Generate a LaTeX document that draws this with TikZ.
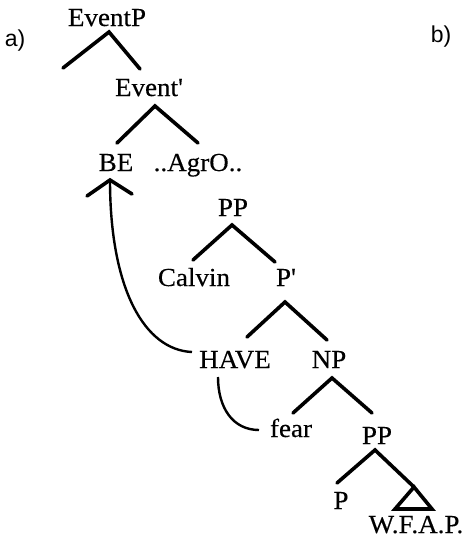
\documentclass[tikz,border=0pt]{standalone}
\usepackage{fontspec}
\setmainfont{Liberation Serif}[Ligatures=TeXOff,FakeStretch=1.04,FakeBold=0.3]
\newfontfamily\labelfont{Liberation Sans}
\begin{document}
\begin{tikzpicture}[x=1pt,y=-1pt,
  lbl/.style={anchor=base,inner sep=0pt,font=\fontsize{26}{26}\selectfont},
  side/.style={anchor=base,inner sep=0pt,font=\labelfont\fontsize{23}{23}\selectfont},
  branch/.style={line width=3.6pt,line cap=round},
  trace/.style={line width=2.4pt}]
\useasboundingbox (0,0) rectangle (470,539);
% labels
\node[side] (la) at (15,46) {a)};
\node[side] (lb) at (441,42) {b)};
% tree nodes
\node[lbl] (EventP) at (107,26) {EventP};
\node[lbl] (EventBar) at (149,96) {Event'};
\node[lbl] (BE) at (116,171) {BE};
\node[lbl] (AgrO) at (198,171) {..AgrO..};
\node[lbl] (PP) at (233,216) {PP};
\node[lbl] (Calvin) at (194,286) {Calvin};
\node[lbl] (Pbar) at (286,286) {P'};
\node[lbl] (HAVE) at (235,368) {HAVE};
\node[lbl] (NP) at (329,368) {NP};
\node[lbl] (fear) at (291,437) {fear};
\node[lbl] (PPb) at (377,444) {PP};
\node[lbl] (P) at (341,509) {P};
\node[lbl] (WFAP) at (416,533) {W.F.A.P.};
% branch points
\coordinate (a1) at (109,32);  \coordinate (a1l) at (63,68);   \coordinate (a1r) at (140,69);
\coordinate (a2) at (155,106); \coordinate (a2l) at (117,143); \coordinate (a2r) at (198,143);
\coordinate (a3) at (232,225); \coordinate (a3l) at (193,260); \coordinate (a3r) at (275,262);
\coordinate (a4) at (285,302); \coordinate (a4l) at (247,337); \coordinate (a4r) at (327,340);
\coordinate (a5) at (332,378); \coordinate (a5l) at (293,413); \coordinate (a5r) at (372,413);
\coordinate (a6) at (375,450); \coordinate (a6l) at (337,483); \coordinate (a6r) at (414,487);
\coordinate (t1) at (395,509); \coordinate (t2) at (432,509);
\draw[branch] (a1l) -- (a1) -- (a1r);
\draw[branch] (a2l) -- (a2) -- (a2r);
\draw[branch] (a3l) -- (a3) -- (a3r);
\draw[branch] (a4l) -- (a4) -- (a4r);
\draw[branch] (a5l) -- (a5) -- (a5r);
\draw[branch] (a6l) -- (a6) -- (a6r);
\draw[branch,line join=miter] (a6r) -- (t1) -- (t2) -- cycle;
% movement traces
\coordinate (hvL) at (192,352);
\coordinate (beT) at (110,180);
\coordinate (wL) at (87,196); \coordinate (wR) at (132,194);
\draw[trace] (hvL) .. controls (145,350) and (110,290) .. (beT);
\draw[branch] (wL) -- (beT) -- (wR);
\coordinate (hvB) at (218,377);
\coordinate (frL) at (259,430);
\draw[trace] (hvB) .. controls (218,408) and (233,430) .. (frL);
\end{tikzpicture}
\end{document}
